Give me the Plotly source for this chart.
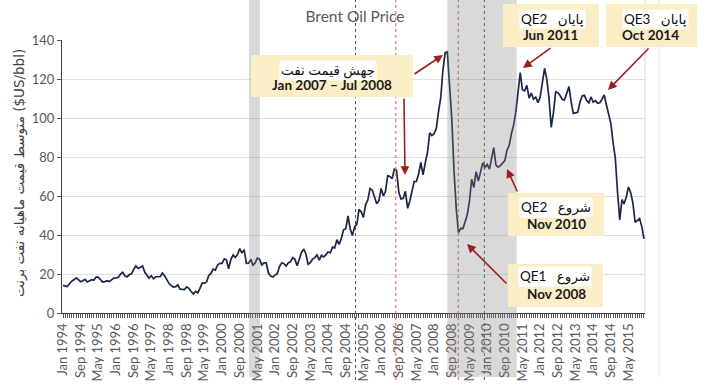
import plotly.graph_objects as go
import pandas as pd

# Monthly Brent price, Jan 1994 - Dec 2015 ($US/bbl)
p1994 = [14.2, 13.8, 13.6, 15.0, 16.3, 17.0, 18.0, 17.1, 16.0, 16.5, 17.2, 15.9]
p1995 = [16.6, 17.1, 16.8, 18.4, 18.4, 17.3, 15.9, 16.1, 16.6, 16.1, 16.9, 17.9]
p1996 = [18.0, 18.3, 19.8, 20.9, 19.1, 18.5, 19.6, 20.1, 22.4, 24.1, 22.8, 23.6]
p1997 = [24.1, 20.9, 19.7, 17.9, 19.1, 17.6, 18.6, 18.6, 18.6, 20.5, 19.1, 17.1]
p1998 = [15.1, 14.1, 13.3, 13.5, 14.4, 12.2, 12.1, 12.0, 13.4, 12.6, 11.0, 9.8]
p1999 = [11.1, 10.3, 12.5, 15.3, 15.3, 15.9, 19.1, 20.3, 22.5, 22.0, 24.6, 25.5]
p2000 = [25.5, 27.8, 27.3, 22.7, 27.4, 29.7, 28.5, 30.0, 33.0, 30.7, 32.5, 25.5]
p2001 = [25.6, 27.5, 24.5, 25.7, 28.1, 27.6, 24.6, 25.7, 25.7, 20.5, 18.9, 18.5]
p2002 = [19.4, 20.3, 23.7, 25.7, 25.4, 24.1, 25.7, 26.3, 28.4, 27.5, 24.2, 28.1]
p2003 = [31.2, 32.8, 30.3, 25.0, 25.8, 27.6, 28.4, 29.8, 27.1, 29.6, 28.8, 29.8]
p2004 = [31.3, 30.9, 33.8, 33.4, 37.6, 35.2, 38.2, 42.7, 43.2, 49.8, 43.1, 39.7]
p2005 = [44.3, 45.6, 53.1, 51.9, 49.0, 55.6, 57.9, 63.9, 63.0, 59.5, 56.0, 57.6]
p2006 = [63.9, 60.0, 62.3, 70.4, 70.0, 68.9, 73.7, 73.2, 62.0, 58.5, 58.8, 62.4]
p2007 = [53.7, 57.6, 62.1, 67.4, 67.5, 71.3, 77.2, 70.8, 77.1, 82.3, 92.4, 91.0]
p2008 = [91.9, 94.8, 103.3, 110.4, 124.6, 133.5, 133.9, 113.9, 99.1, 72.8, 53.2, 41.3]
p2009 = [43.4, 43.3, 46.5, 50.2, 57.3, 68.6, 64.4, 72.5, 67.7, 73.2, 77.0, 74.7]
p2010 = [76.2, 73.8, 78.8, 84.8, 75.9, 74.8, 75.6, 77.1, 78.2, 83.5, 86.1, 92.0]
p2011 = [96.5, 103.7, 114.6, 123.3, 114.5, 113.9, 116.7, 110.2, 112.8, 109.6, 110.8, 107.9]
p2012 = [110.7, 119.3, 125.5, 119.8, 110.3, 95.2, 102.6, 113.4, 113.0, 111.5, 109.5, 109.2]
p2013 = [112.3, 116.1, 108.5, 102.3, 102.6, 102.9, 107.9, 111.3, 111.6, 109.1, 107.8, 110.8]
p2014 = [108.1, 108.9, 107.5, 107.8, 109.5, 111.8, 106.8, 101.6, 97.1, 87.4, 79.4, 62.3]
p2015 = [47.8, 58.1, 55.9, 59.5, 64.6, 61.7, 56.5, 46.5, 47.6, 48.4, 44.3, 38.0]

prices = (p1994 + p1995 + p1996 + p1997 + p1998 + p1999 + p2000 + p2001 + p2002 +
          p2003 + p2004 + p2005 + p2006 + p2007 + p2008 + p2009 + p2010 + p2011 +
          p2012 + p2013 + p2014 + p2015)
months = pd.date_range("1994-01-01", periods=len(prices), freq="MS")

tick_labels = ["Jan 1994", "Sep 1994", "May 1995", "Jan 1996", "Sep 1996", "May 1997",
               "Jan 1998", "Sep 1998", "May 1999", "Jan 2000", "Sep 2000", "May 2001",
               "Jan 2002", "Sep 2002", "May 2003", "Jan 2004", "Sep 2004", "May 2005",
               "Jan 2006", "Sep 2006", "May 2007", "Jan 2008", "Sep 2008", "May 2009",
               "Jan 2010", "Sep 2010", "May 2011", "Jan 2012", "Sep 2012", "May 2013",
               "Jan 2014", "Sep 2014", "May 2015"]
tick_vals = [pd.to_datetime(t, format="%b %Y") for t in tick_labels]

# shaded periods and dotted marker lines
bands = [("2001-01-05", "2001-06-05"), ("2008-07-01", "2011-02-12")]
black_lines = ["2005-01-13", "2009-11-22"]
red_lines = ["2006-07-22", "2008-11-28"]

W, H = 717, 388
L, R, T, B = 62, 72, 40, 75
PW, PH = W - L - R, H - T - B


def px(x):
    return (x - L) / PW


def py(y):
    return (H - B - y) / PH


fig = go.Figure()
fig.add_trace(go.Scatter(x=months, y=prices, mode="lines",
                         line=dict(color="#1b2748", width=1.7),
                         hoverinfo="x+y", showlegend=False))

shapes = []
# right border lines
shapes.append(dict(type="line", xref="paper", yref="paper", x0=1, x1=1,
                   y0=0, y1=py(0), line=dict(color="#dcdcdc", width=1), layer="below"))
shapes.append(dict(type="line", xref="paper", yref="paper", x0=px(659), x1=px(659),
                   y0=py(377), y1=py(0), line=dict(color="#e6e6e6", width=1), layer="below"))

for d in black_lines:
    shapes.append(dict(type="line", xref="x", yref="paper", x0=d, x1=d,
                       y0=py(380), y1=py(0), line=dict(color="#505050", width=1, dash="dot"),
                       layer="above"))
for d in red_lines:
    shapes.append(dict(type="line", xref="x", yref="paper", x0=d, x1=d,
                       y0=py(380), y1=py(0), line=dict(color="#e05050", width=1, dash="dot"),
                       layer="above"))
for a, b in bands:
    shapes.append(dict(type="rect", xref="x", yref="paper", x0=a, x1=b,
                       y0=py(377), y1=py(0), fillcolor="rgb(128,128,128)", opacity=0.3,
                       line=dict(width=0), layer="above"))

# annotation boxes (pixel positions -> paper)
boxes = [(251, 413, 55, 97), (503, 599, 4, 47), (606, 697, 4, 47),
         (508, 604, 193, 236), (508, 603, 264, 307)]
for x0, x1, y0, y1 in boxes:
    shapes.append(dict(type="rect", xref="paper", yref="paper", x0=px(x0), x1=px(x1),
                       y0=py(y1), y1=py(y0), fillcolor="#fbedc6", line=dict(width=0),
                       layer="above"))

annotations = []
line1 = [("جهش قیمت نفت", 328, 70), ("QE2   پایان", 552, 19), ("QE3   پایان", 655, 19),
         ("QE2   شروع", 556, 207), ("QE1   شروع", 555, 276)]
line2 = [("Jan 2007 – Jul 2008", 332, 85), ("Jun 2011", 550, 35), ("Oct 2014", 650, 35),
         ("Nov 2010", 556, 224), ("Nov 2008", 556, 294)]
for t, x, y in line1:
    annotations.append(dict(text=t, xref="paper", yref="paper", x=px(x), y=py(y),
                            showarrow=False, bgcolor="white", borderpad=1,
                            font=dict(family="Lato, DejaVu Sans", size=13.5, color="#111111"),
                            xanchor="center", yanchor="middle"))
for t, x, y in line2:
    annotations.append(dict(text="<b>%s</b>" % t, xref="paper", yref="paper", x=px(x), y=py(y),
                            showarrow=False,
                            font=dict(family="Lato", size=13.5, color="#1a1a1a"),
                            xanchor="center", yanchor="middle"))

arrows = [((443, 55), (413, 75)), ((405, 175), (404, 97)), ((523, 68), (552, 47)),
          ((608, 90), (650, 47)), ((507, 169), (518, 193)), ((467, 244), (508, 285))]
for (hx, hy), (tx, ty) in arrows:
    annotations.append(dict(text="", xref="paper", yref="paper", x=px(hx), y=py(hy),
                            ax=tx - hx, ay=ty - hy, showarrow=True, arrowhead=2,
                            arrowsize=1.1, arrowwidth=1.6, arrowcolor="#9c1f1f"))

annotations.append(dict(text="متوسط قیمت ماهیانه نفت برنت ($US/bbl)", xref="paper", yref="paper",
                        x=px(19), y=py(173), textangle=-90, showarrow=False,
                        font=dict(family="DejaVu Sans, Noto Sans", size=13.5, color="#404040"),
                        xanchor="center", yanchor="middle"))

fig.update_layout(
    width=W, height=H,
    margin=dict(l=L, r=R, t=T, b=B, pad=0),
    paper_bgcolor="white", plot_bgcolor="white",
    title=dict(text="Brent Oil Price", x=px(355), xref="paper", xanchor="center",
               y=1 - 17 / H, yanchor="middle",
               font=dict(family="Lato", size=15.5, color="#595959")),
    shapes=shapes, annotations=annotations,
    xaxis=dict(type="date", range=["1993-12-18", "2015-12-15"],
               tickvals=tick_vals, ticktext=tick_labels, tickangle=-90,
               tickfont=dict(family="Lato", size=13, color="#595959"),
               ticks="outside", ticklen=4, tickcolor="#555555", tickwidth=1,
               minor=dict(dtick="M1", ticks="outside", ticklen=4, tickcolor="#555555",
                          tickwidth=1, showgrid=False),
               showgrid=False, showline=True, linecolor="#404040", linewidth=1.3,
               zeroline=False, automargin=False),
    yaxis=dict(range=[0, 140], dtick=20, tickfont=dict(family="Lato", size=13, color="#595959"),
               ticks="outside", ticklen=4, tickcolor="#555555",
               showgrid=True, gridcolor="#dedede", gridwidth=1,
               showline=True, linecolor="#404040", linewidth=1.3,
               zeroline=False, automargin=False),
)

fig.write_html("out.html", config={"displayModeBar": False},
               post_script="document.body.style.margin='0';")
